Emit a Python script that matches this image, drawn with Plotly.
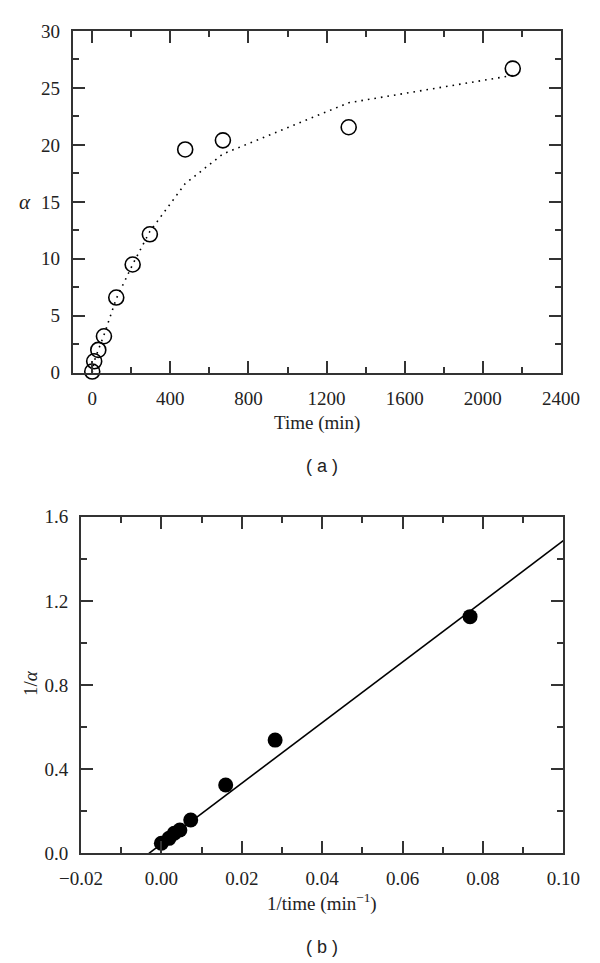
import plotly.graph_objs as go

# panel (a): alpha vs time
time_min = [0, 10, 31, 60, 123, 207, 295, 476, 669, 1313, 2153]
alpha = [0.1, 1.0, 2.0, 3.2, 6.6, 9.5, 12.15, 19.6, 20.4, 21.55, 26.7]
fit_alpha = [0.0, 1.0, 2.0, 3.3, 6.5, 9.5, 12.4, 16.6, 19.2, 23.7, 26.1]

# panel (b): 1/alpha vs 1/time
inv_time = [0.0000, 0.0019, 0.0032, 0.0046, 0.0073, 0.0160, 0.0283, 0.0768]
inv_alpha = [0.048, 0.071, 0.095, 0.111, 0.158, 0.325, 0.538, 1.125]
line_x = [-0.0031, 0.10]
line_y = [0.0, 1.486]

SERIF = "Liberation Serif"
AX = "#333333"
# page body has an 8px margin, so the figure is drawn 8px smaller and offset
W, H, OFF = 592, 955, 8


def px(x):
    return (x - OFF) / W


def py(y):
    return 1 - (y - OFF) / H


fig = go.Figure()

fig.add_trace(go.Scatter(x=time_min, y=fit_alpha, mode="lines",
                         line=dict(color="black", width=1.6, dash="1.6px,5px"),
                         xaxis="x", yaxis="y", showlegend=False))
fig.add_trace(go.Scatter(x=time_min, y=alpha, mode="markers", cliponaxis=False,
                         marker=dict(symbol="circle-open", size=15, color="black",
                                     line=dict(width=1.6, color="black")),
                         xaxis="x", yaxis="y", showlegend=False))

fig.add_trace(go.Scatter(x=line_x, y=line_y, mode="lines",
                         line=dict(color="black", width=1.6),
                         xaxis="x2", yaxis="y2", showlegend=False))
fig.add_trace(go.Scatter(x=inv_time, y=inv_alpha, mode="markers", cliponaxis=False,
                         marker=dict(symbol="circle", size=15, color="black"),
                         xaxis="x2", yaxis="y2", showlegend=False))


def axis_style(**kw):
    d = dict(showgrid=False, zeroline=False, showline=True, linecolor=AX, linewidth=2,
             mirror="ticks", ticks="inside", ticklen=12, tickwidth=2, tickcolor=AX,
             minor=dict(ticks="inside", ticklen=6, tickwidth=2, tickcolor=AX),
             tickfont=dict(family=SERIF, size=19, color="#222"),
             ticklabelstandoff=7, automargin=False)
    d.update(kw)
    return d


fig.update_layout(
    width=W, height=H,
    margin=dict(l=0, r=0, t=0, b=0, autoexpand=False),
    plot_bgcolor="white", paper_bgcolor="white",
    xaxis=axis_style(domain=[px(72.7), px(561)], range=[-100, 2400],
                     tickvals=[0, 400, 800, 1200, 1600, 2000, 2400], minor_dtick=200, anchor="y"),
    yaxis=axis_style(domain=[py(372.7), py(31)], range=[0, 30], dtick=5, minor_dtick=2.5, anchor="x"),
    xaxis2=axis_style(domain=[px(81), px(563.3)], range=[-0.02, 0.10], dtick=0.02, minor_dtick=0.01,
                      tickformat=".2f", anchor="y2"),
    yaxis2=axis_style(domain=[py(853.3), py(516.7)], range=[0, 1.6], dtick=0.4, minor_dtick=0.2,
                      tickformat=".1f", anchor="x2"),
)

annots = [
    dict(text="<i>α</i>", x=25, y=202, size=21, family=SERIF, angle=0),
    dict(text="Time (min)", x=317, y=423, size=19, family=SERIF, angle=0),
    dict(text="( a )", x=322, y=466, size=18, family="Liberation Sans", angle=0),
    dict(text="1/<i>α</i>", x=30, y=683, size=19, family=SERIF, angle=-90),
    dict(text="1/time (min<sup>−1</sup>)", x=322, y=902, size=19, family=SERIF, angle=0),
    dict(text="( b )", x=322, y=947, size=18, family="Liberation Sans", angle=0),
]
for a in annots:
    fig.add_annotation(text=a["text"], x=px(a["x"]), y=py(a["y"]), xref="paper", yref="paper",
                       showarrow=False, textangle=a["angle"], xanchor="center", yanchor="middle",
                       font=dict(family=a["family"], size=a["size"], color="#222"))

fig.write_html("out.html")
